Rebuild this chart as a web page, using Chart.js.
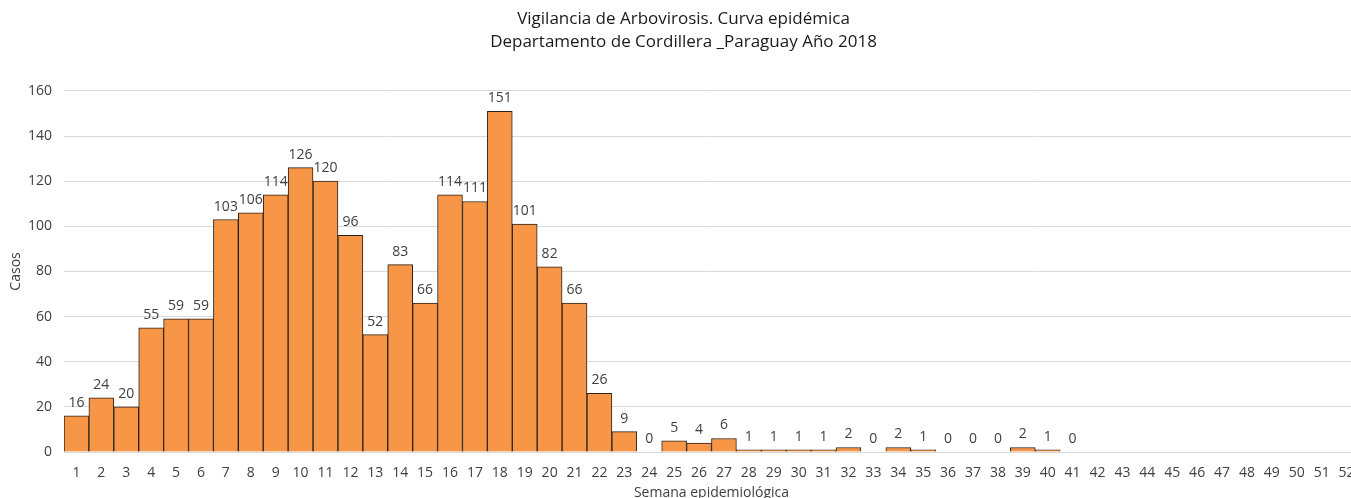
<!DOCTYPE html>
<html>
<head>
<meta charset="utf-8">
<script src="https://cdn.jsdelivr.net/npm/chart.js@4/dist/chart.umd.min.js"></script>
<style>
  html, body { margin: 0; padding: 0; background: #fff; overflow: hidden; }
  #wrap { width: 1366px; height: 504px; }
</style>
</head>
<body>
<div id="wrap"><canvas id="chart" width="1366" height="504"></canvas></div>
<script>
// semanas epidemiológicas 1..52
const weeks = [];
for (let w = 1; w <= 52; w++) weeks.push(String(w));

// casos por semana (42-52 sin datos)
const cases = [16, 24, 20, 55, 59, 59, 103, 106, 114, 126, 120, 96, 52, 83, 66, 114, 111, 151, 101, 82, 66, 26, 9, 0, 5, 4, 6, 1, 1, 1, 1, 2, 0, 2, 1, 0, 0, 0, 2, 1, 0,
               null, null, null, null, null, null, null, null, null, null, null];

const yTicks = [0, 20, 40, 60, 80, 100, 120, 140, 160];

const titleLines = ["Vigilancia de Arbovirosis. Curva epidémica", "Departamento de Cordillera _Paraguay Año 2018"];

const fontFamily = "'Open Sans', 'Noto Sans', sans-serif";

// etiquetas de valor encima de cada barra
const barLabels = {
    id: "barLabels",
    afterDatasetsDraw(chart) {
        const ctx = chart.ctx;
        const meta = chart.getDatasetMeta(0);
        ctx.save();
        ctx.font = "14px " + fontFamily;
        ctx.fillStyle = "#404040";
        ctx.textAlign = "center";
        ctx.textBaseline = "bottom";
        meta.data.forEach((bar, i) => {
            const v = cases[i];
            if (v === null) return;
            ctx.fillText(String(v), bar.x, bar.y - 6);
        });
        ctx.restore();
    }
};

const ctx = document.getElementById("chart").getContext("2d");
new Chart(ctx, {
    type: "bar",
    data: {
        labels: weeks,
        datasets: [{
            data: cases,
            backgroundColor: "#F79646",
            borderColor: "#2b2118",
            borderWidth: 1,
            categoryPercentage: 1.0,
            barPercentage: 1.0
        }]
    },
    options: {
        responsive: false,
        animation: false,
        layout: { padding: { left: 8, right: 7, top: 0, bottom: 0 } },
        plugins: {
            legend: { display: false },
            tooltip: { enabled: false },
            title: {
                display: true,
                text: titleLines,
                color: "#1a1a1a",
                font: { family: fontFamily, size: 17, weight: "normal", lineHeight: 1.35 },
                padding: { top: 8, bottom: 37 }
            }
        },
        scales: {
            x: {
                afterFit(axis) { axis.height = 52; },
                grid: { display: false },
                border: { display: true, color: "#d9d9d9" },
                ticks: {
                    color: "#404040",
                    font: { family: fontFamily, size: 14 },
                    maxRotation: 0,
                    autoSkip: false,
                    padding: 5
                },
                title: {
                    display: true,
                    text: "Semana epidemiológica",
                    color: "#404040",
                    font: { family: fontFamily, size: 14 },
                    padding: { top: 10, bottom: 3 }
                }
            },
            y: {
                min: 0,
                max: 160,
                afterBuildTicks(axis) {
                    axis.ticks = yTicks.map(v => ({ value: v }));
                },
                afterFit(axis) { axis.width = 56; },
                grid: { color: "#d9d9d9", drawTicks: false },
                border: { display: false },
                ticks: {
                    color: "#404040",
                    font: { family: fontFamily, size: 14 },
                    padding: 12
                },
                title: {
                    display: true,
                    text: "Casos",
                    color: "#404040",
                    font: { family: fontFamily, size: 14 },
                    padding: { top: 0, bottom: 4 }
                }
            }
        }
    },
    plugins: [barLabels]
});
</script>
</body>
</html>
